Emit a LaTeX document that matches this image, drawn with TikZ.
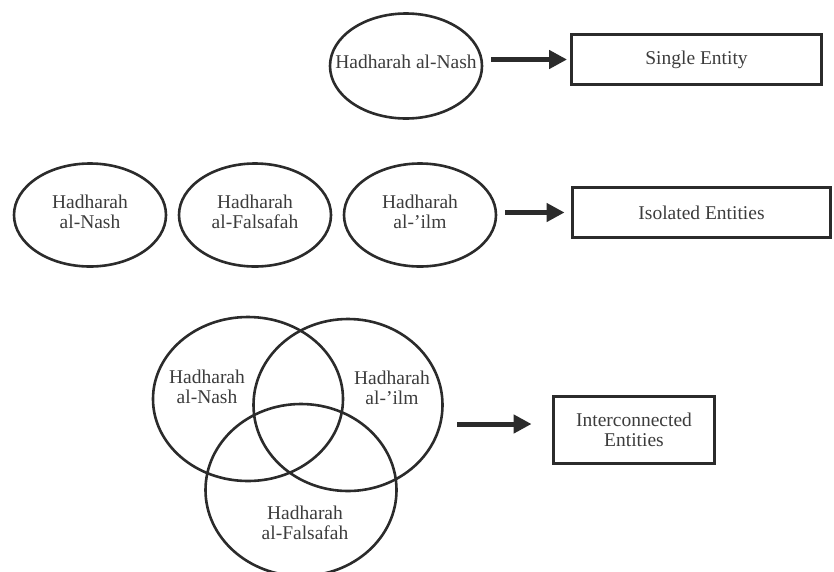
\documentclass[tikz,border=0pt]{standalone}
\usepackage{fontspec}
\setmainfont{Liberation Serif}
\usetikzlibrary{shapes.geometric,arrows.meta}
\definecolor{ink}{HTML}{2B2B2B}
\definecolor{txt}{HTML}{3C3C3C}
\begin{document}
\begin{tikzpicture}[x=1pt,y=-1pt,
  oval/.style={ellipse,draw=ink,line width=2.6pt,inner sep=0pt},
  lbl/.style={text=txt,align=center,inner sep=0pt,font=\fontsize{19.5}{20}\selectfont},
  entbox/.style={draw=ink,line width=3.4pt,inner sep=0pt,text=txt,align=center,font=\fontsize{19.5}{20}\selectfont},
  arr/.style={draw=ink,line width=5pt,-{Triangle[length=18pt,width=18pt]}}
]
\useasboundingbox (0,0) rectangle (834,571);
\clip (0,0) rectangle (834,571);
% Row 1
\node[oval,minimum width=152pt,minimum height=105pt] (single) at (406,66) {};
\node[lbl] (singlet) at (406,62) {Hadharah al-Nash};
\node[entbox,minimum width=249.5pt,minimum height=49.5pt] (box1) at (696.5,59.5) {Single Entity};
\draw[arr,shorten <=8pt,shorten >=3pt] (single.east |- box1.west) -- (box1.west);
% Row 2
\node[oval,minimum width=152pt,minimum height=103pt] (iso1) at (90,215) {};
\node[oval,minimum width=152pt,minimum height=103pt] (iso2) at (255,215) {};
\node[oval,minimum width=152pt,minimum height=103pt] (iso3) at (420,215) {};
\node[lbl] (iso1t) at (90,212) {Hadharah\\al-Nash};
\node[lbl] (iso2t) at (255,212) {Hadharah\\al-Falsafah};
\node[lbl] (iso3t) at (420,212) {Hadharah\\al-'ilm};
\node[entbox,minimum width=257.5pt,minimum height=49.5pt] (box2) at (701.5,212.5) {Isolated Entities};
\draw[arr,shorten <=8pt,shorten >=6.5pt] (iso3.east |- box2.west) -- (box2.west);
% Row 3 (Venn)
\node[oval,minimum width=190pt,minimum height=164pt] (nash) at (248,399) {};
\node[oval,minimum width=189pt,minimum height=172pt] (ilm) at (348,405) {};
\node[oval,minimum width=191pt,minimum height=172pt] (fals) at (301,490) {};
\node[lbl] (nasht) at (207,387) {Hadharah\\al-Nash};
\node[lbl] (ilmt) at (392,388) {Hadharah\\al-'ilm};
\node[lbl] (falst) at (305,523) {Hadharah\\al-Falsafah};
\node[entbox,minimum width=160.5pt,minimum height=66.5pt] (box3) at (634,430) {Interconnected\\Entities};
\coordinate (a3) at (457,424);
\draw[arr,shorten >=20.5pt] (a3) -- (a3 -| box3.west);
\end{tikzpicture}
\end{document}
